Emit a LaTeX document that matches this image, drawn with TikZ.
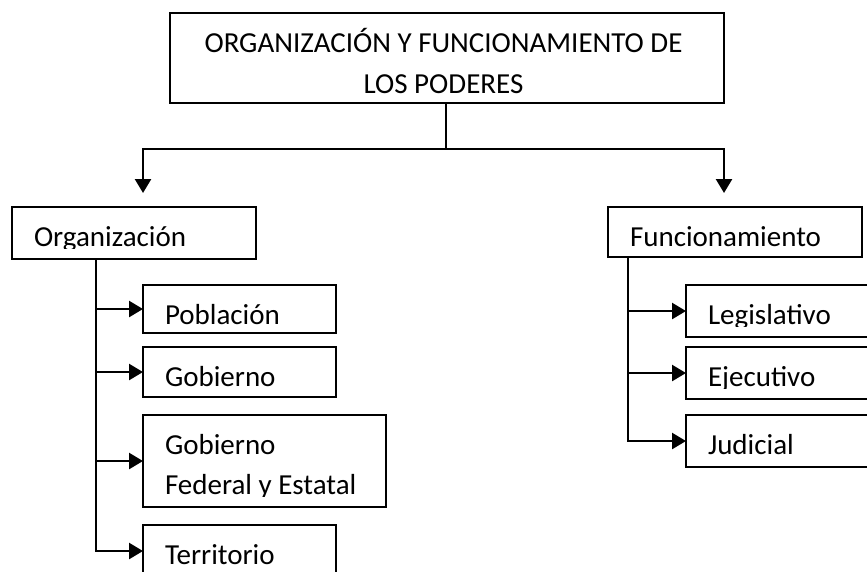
\documentclass[tikz,border=0pt]{standalone}
\usepackage{fontspec}
\setmainfont{Carlito}
\usetikzlibrary{arrows.meta}
\tikzset{
  box/.style={draw, line width=2.5pt, rectangle, inner sep=0pt, outer sep=0pt},
  lbl/.style={inner sep=0pt, outer sep=0pt, anchor=base west, font=\fontsize{29}{40}\selectfont},
  ttl/.style={inner sep=0pt, outer sep=0pt, anchor=base, font=\fontsize{29}{40}\selectfont},
  conn/.style={line width=2.5pt, -{Triangle[length=14pt,width=16pt]}},
  trunk/.style={line width=2.5pt},
}
\newcommand\boxtext[3]{%
  \begin{scope}
    \clip ([yshift=-41pt]#1.north west) rectangle (#1.north east);
    \node[lbl] (#2) at ([xshift=22pt,yshift=-39pt]#1.north west) {#3};
  \end{scope}}
\begin{document}
\begin{tikzpicture}[x=1pt,y=-1pt]
\clip (0,0) rectangle (867,571);
\useasboundingbox (0,0) rectangle (867,571);
% boxes
\node[box, minimum width=554pt, minimum height=90pt] (top) at (447,58) {};
\node[box, minimum width=244pt, minimum height=52pt] (org) at (134,233) {};
\node[box, minimum width=193pt, minimum height=48pt] (pob) at (239.5,309) {};
\node[box, minimum width=193pt, minimum height=50pt] (gob) at (239.5,372) {};
\node[box, minimum width=243pt, minimum height=92pt] (gfe) at (264.5,461) {};
\node[box, minimum width=193pt, minimum height=52pt] (ter) at (239.5,551) {};
\node[box, minimum width=254pt, minimum height=50pt] (fun) at (735,232) {};
\node[box, minimum width=214pt, minimum height=52pt] (leg) at (793,311) {};
\node[box, minimum width=214pt, minimum height=52pt] (eje) at (793,373) {};
\node[box, minimum width=214pt, minimum height=52pt] (jud) at (793,441) {};
% texts
\node[ttl] (t1) at (443.5,52) {ORGANIZACIÓN Y FUNCIONAMIENTO DE};
\node[ttl] (t2) at (443.5,93) {LOS PODERES};
\boxtext{org}{torg}{Organización}
\boxtext{pob}{tpob}{Población}
\boxtext{gob}{tgob}{Gobierno}
\begin{scope}
  \clip ([yshift=-81pt]gfe.north west) rectangle (gfe.north east);
  \node[lbl] (tgfe1) at ([xshift=22pt,yshift=-39pt]gfe.north west) {Gobierno};
  \node[lbl] (tgfe2) at ([xshift=22pt,yshift=-79pt]gfe.north west) {Federal y Estatal};
\end{scope}
\boxtext{ter}{tter}{Territorio}
\boxtext{fun}{tfun}{Funcionamiento}
\boxtext{leg}{tleg}{Legislativo}
\boxtext{eje}{teje}{Ejecutivo}
\boxtext{jud}{tjud}{Judicial}
% top connectors
\coordinate (split) at (446,149);
\coordinate (la) at (143,193);
\coordinate (ra) at (724,193);
\draw[trunk] (top.south -| split) -- (split);
\draw[conn] (split) -| (la);
\draw[conn] (split) -| (ra);
% organizacion branches
\coordinate (ot) at ([xshift=84pt]org.south west);
\draw[conn] (ot) |- (pob.west);
\draw[conn] (ot) |- (gob.west);
\draw[conn] (ot) |- (gfe.west);
\draw[conn] (ot) |- (ter.west);
% funcionamiento branches
\coordinate (ft) at ([xshift=20pt]fun.south west);
\draw[conn] (ft) |- (leg.west);
\draw[conn] (ft) |- (eje.west);
\draw[conn] (ft) |- (jud.west);
\end{tikzpicture}
\end{document}
